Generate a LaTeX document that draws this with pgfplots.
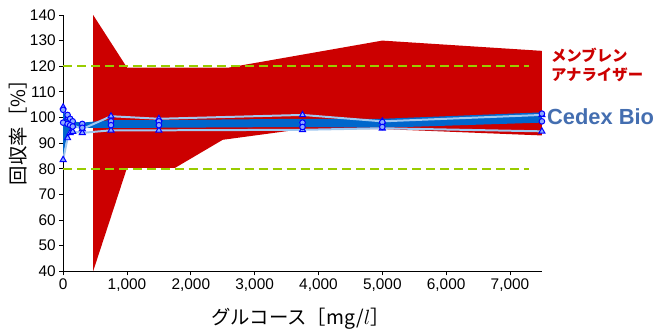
\documentclass[border=0pt]{standalone}
\usepackage{fontspec}
\setmainfont{Liberation Sans}
\newfontfamily\jp{Noto Sans CJK JP}
\usepackage{pgfplots}
\pgfplotsset{compat=1.18}
\definecolor{redf}{RGB}{204,0,0}
\definecolor{bandb}{RGB}{0,102,204}
\definecolor{lightb}{RGB}{160,200,240}
\definecolor{mk}{RGB}{0,0,255}
\definecolor{mkfill}{RGB}{140,170,255}
\definecolor{dashg}{RGB}{153,204,0}
\definecolor{cedex}{RGB}{68,110,176}
\begin{document}
\begin{tikzpicture}
\begin{axis}[
  scale only axis, width=480bp, height=257bp,
  xmin=0, xmax=7500, ymin=40, ymax=140,
  axis lines=left, axis line style={-, line width=0.8bp},
  xtick={0,1000,...,7000}, ytick={40,50,...,140},
  scaled x ticks=false,
  tick align=outside, major tick length=4bp,
  tick style={black, line width=0.8bp},
  /pgf/number format/assume math mode=true,
  xticklabel style={/pgf/number format/1000 sep={,}},
  ticklabel style={font=\fontsize{15.5}{18}\selectfont},
  clip=false,
]
% membrane analyzer range (red)
\addplot[draw=none, fill=redf] coordinates {
  (470,140) (1000,119.5) (2600,119.5) (5000,130) (7500,126)
  (7500,93) (5000,95.5) (3750,95.5) (2500,91.3) (1750,80.3) (1000,80.3) (470,40)
} -- cycle;
% limits
\addplot[dashg, line width=2bp, dash pattern=on 9bp off 5bp] coordinates {(0,120) (7300,120)};
\addplot[dashg, line width=2bp, dash pattern=on 9bp off 5bp] coordinates {(0,80) (7300,80)};
% Cedex Bio band
\addplot[draw=none, fill=bandb] coordinates {
  (0,103) (70,101) (110,99.5) (150,98.5) (300,98) (750,99) (1500,99) (3750,99.5) (5000,99.5) (7500,102)
  (7500,98) (5000,96) (3750,96.3) (1500,96) (750,96) (300,96) (150,96) (110,95.5) (70,94) (0,85)
} -- cycle;
% light lines with triangle marks
\addplot[lightb, line width=2bp, mark=triangle*, mark size=3.5bp,
  mark options={draw=mk, fill=mkfill, line width=1bp}] coordinates {
  (0,104) (70,100) (110,98) (150,97) (300,95.5) (750,100.5) (1500,99.5) (3750,101) (5000,98.5) (7500,101)
};
\addplot[lightb, line width=2bp, mark=triangle*, mark size=3.5bp,
  mark options={draw=mk, fill=mkfill, line width=1bp}] coordinates {
  (0,83.5) (70,92) (110,94) (150,94.5) (300,94) (750,95) (1500,95) (3750,95.2) (5000,95.8) (7500,94.6)
};
% circle marks
\addplot[only marks, mark=*, mark size=2.8bp,
  mark options={draw=mk, fill=mkfill, line width=1bp}] coordinates {
  (0,103) (70,101) (110,99.5) (150,98.5) (300,97.5) (750,98.5) (1500,98.5) (3750,98) (5000,98.2) (7500,101.5)
};
\addplot[only marks, mark=*, mark size=2.8bp,
  mark options={draw=mk, fill=mkfill, line width=1bp}] coordinates {
  (0,98) (70,97.5) (110,97) (150,96.5) (300,96) (750,97) (1500,97) (3750,96.3) (5000,96.3) (7500,98.5)
};
\end{axis}
\node[anchor=west, inner sep=0, text=redf, font=\jp\bfseries\fontsize{15.5}{18}\selectfont] at (489bp,217bp) {メンブレン};
\node[anchor=west, inner sep=0, text=redf, font=\jp\bfseries\fontsize{15.5}{18}\selectfont] at (489bp,197bp) {アナライザー};
\node[anchor=west, inner sep=0, text=cedex, font=\bfseries\fontsize{22}{25}\selectfont] at (485bp,155bp) {Cedex Bio};
\node[rotate=90, inner sep=0, font=\jp\fontsize{19.5}{22}\selectfont] at (-45bp,144bp) {回収率［\%］};
\node[inner sep=0, font=\jp\fontsize{19.5}{22}\selectfont] at (238bp,-48bp) {グルコース［mg/$l$］};
\path[use as bounding box] (-63.3bp,-61bp) rectangle (590.7bp,272bp);
\end{tikzpicture}
\end{document}
